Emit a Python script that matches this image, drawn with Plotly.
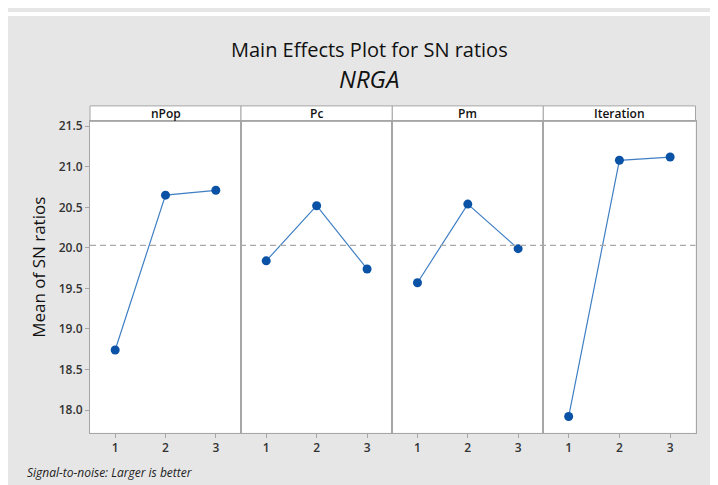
import plotly.graph_objects as go
from plotly.subplots import make_subplots

factors = ["nPop", "Pc", "Pm", "Iteration"]
levels = [1, 2, 3]
npop_sn = [18.74, 20.65, 20.71]
pc_sn = [19.84, 20.52, 19.74]
pm_sn = [19.57, 20.54, 19.99]
iteration_sn = [17.92, 21.08, 21.12]
grand_mean = 20.03
y_ticks = [18.0, 18.5, 19.0, 19.5, 20.0, 20.5, 21.0, 21.5]

series = [npop_sn, pc_sn, pm_sn, iteration_sn]

# page body has an 8px margin; figure is sized to fit the 718x485 window
OFF = 8
W, H = 718 - OFF, 485 - OFF
px = lambda x: (x - OFF) / W
py = lambda y: 1 - (y - OFF) / H

left, right = 90, 695.5
top_plot, bottom = 118.3, 432.3
header_top = 102.7
edges = [90, 241, 392.3, 543.3, 695.5]

fig = make_subplots(rows=1, cols=4, shared_yaxes=True, horizontal_spacing=0)

grey = "#a6a6a6"
tick_font = dict(family="Open Sans", size=12, color="#333", weight=600)

for i, vals in enumerate(series):
    fig.add_trace(go.Scatter(
        x=levels, y=vals, mode="lines+markers",
        line=dict(color="#3f7fc4", width=1.2),
        marker=dict(color="#0a52a5", size=9),
        showlegend=False, hoverinfo="x+y"), row=1, col=i + 1)

# white strip at top of the page (outside the grey frame)
fig.add_shape(type="rect", xref="paper", yref="paper", x0=0, x1=1, y0=py(12), y1=1,
              fillcolor="white", line=dict(width=0), layer="below")

for i in range(4):
    sfx = "" if i == 0 else str(i + 1)
    fig.layout["xaxis" + sfx].update(
        domain=[px(edges[i]), px(edges[i + 1])], range=[0.5, 3.5],
        tickvals=levels, ticktext=[str(v) for v in levels],
        ticks="outside", ticklen=4, tickcolor=grey,
        showline=True, mirror=True, linecolor=grey, linewidth=1,
        showgrid=False, zeroline=False, tickfont=tick_font)
    fig.layout["yaxis" + sfx].update(
        domain=[py(bottom), py(top_plot)], range=[17.72, 21.56],
        showline=True, mirror=True, linecolor=grey, linewidth=1,
        showgrid=False, zeroline=False)
    # header strip
    fig.add_shape(type="rect", xref="paper", yref="paper",
                  x0=px(edges[i]), x1=px(edges[i + 1]),
                  y0=py(top_plot), y1=py(header_top),
                  fillcolor="white", line=dict(color=grey, width=1), layer="below")
    fig.add_annotation(text=factors[i], xref="paper", yref="paper",
                       x=px((edges[i] + edges[i + 1]) / 2), y=py((header_top + top_plot) / 2),
                       showarrow=False, xanchor="center", yanchor="middle",
                       font=dict(family="Open Sans", size=12, color="#111", weight=600))

fig.layout.yaxis.update(tickvals=y_ticks, ticktext=[f"{v:.1f}" for v in y_ticks],
                        ticks="outside", ticklen=4, tickcolor=grey, tickfont=tick_font)

fig.add_annotation(text="Mean of SN ratios", xref="paper", yref="paper",
                   x=px(39), y=py(266), textangle=-90, showarrow=False,
                   xanchor="center", yanchor="middle",
                   font=dict(family="Open Sans", size=17, color="#111"))

# grand mean reference line
fig.add_shape(type="line", xref="paper", yref="y", x0=px(left), x1=px(right),
              y0=grand_mean, y1=grand_mean,
              line=dict(color="#a9a9a9", width=1.3, dash="6px,4px"))

fig.add_annotation(text="Main Effects Plot for SN ratios", xref="paper", yref="paper",
                   x=px(369), y=py(46), showarrow=False, xanchor="center", yanchor="middle",
                   font=dict(family="Open Sans", size=20, color="#111"))
fig.add_annotation(text="<i>NRGA</i>", xref="paper", yref="paper",
                   x=px(369), y=py(75), showarrow=False, xanchor="center", yanchor="middle",
                   font=dict(family="Open Sans", size=24, color="#111"))
fig.add_annotation(text="<i>Signal-to-noise: Larger is better</i>", xref="paper", yref="paper",
                   x=px(25), y=py(472), showarrow=False, xanchor="left", yanchor="middle",
                   font=dict(family="Open Sans", size=12, color="#222"))

fig.update_layout(width=W, height=H, margin=dict(l=0, r=0, t=0, b=0),
                  paper_bgcolor="#e6e6e6", plot_bgcolor="white")

fig.write_html("out.html")
